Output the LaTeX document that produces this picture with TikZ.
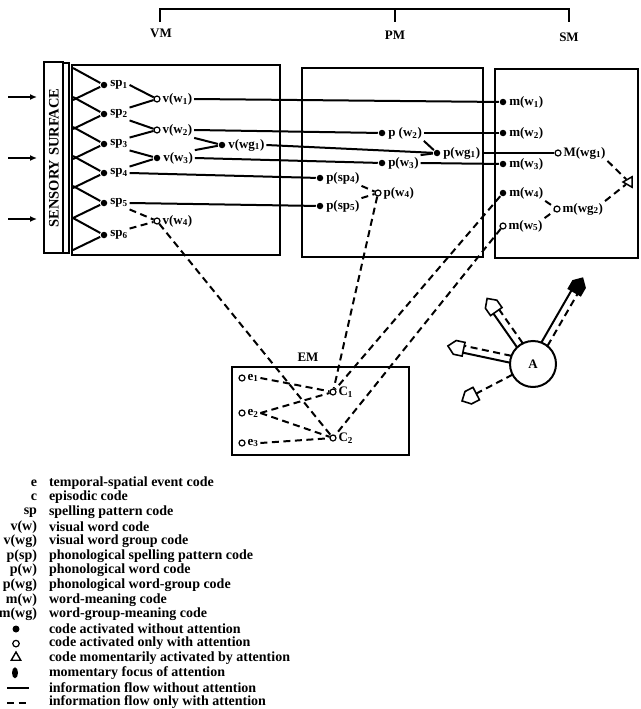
\documentclass[tikz,border=0pt]{standalone}
\usepackage{fontspec}
\setmainfont{Liberation Serif}
\usetikzlibrary{arrows.meta,shapes.geometric}
\tikzset{
  fdot/.style={circle,fill=black,inner sep=0pt,minimum size=6.5pt},
  odot/.style={circle,draw,line width=1.2pt,fill=white,inner sep=0pt,minimum size=6pt},
  lab/.style={anchor=west,inner sep=1pt,font=\fontsize{13}{14}\selectfont\bfseries},
  box/.style={draw,line width=2.2pt},
  flow/.style={line width=2pt},
  attn/.style={line width=2pt,dash pattern=on 7pt off 4.5pt},
  legsym/.style={anchor=east,inner sep=0pt,font=\fontsize{14}{14}\selectfont\bfseries},
  legtxt/.style={anchor=west,inner sep=0pt,font=\fontsize{14}{14}\selectfont\bfseries},
  title/.style={font=\fontsize{13}{14}\selectfont\bfseries},
  inarrow/.style={line width=2pt,-{Latex[length=7pt,width=6pt]}},
}
\newcommand\attarrow[3]{%
  \begin{scope}[shift={(A)},rotate=#1]
    \draw[flow] (23,-3.5) -- ({#2-15},-3.5);
    \draw[attn] (23,3.5) -- ({#2-15},3.5);
    \draw[line width=1.6pt,fill=#3] ({#2-16},-7) -- ({#2-7},-7) -- (#2,0) -- ({#2-7},7) -- ({#2-16},7) -- cycle;
  \end{scope}}
\begin{document}
\begin{tikzpicture}[x=1pt,y=-1pt,line width=2pt]
\useasboundingbox (0,0) rectangle (640,709);
% top bracket
\coordinate (bVM) at (160,22);
\coordinate (bVMt) at (160,9);
\coordinate (bSMt) at (569,9);
\coordinate (bSM) at (569,22);
\coordinate (bPMt) at (395,9);
\coordinate (bPM) at (395,22);
\draw[line width=2pt] (bVM) -- (bVMt) -- (bSMt) -- (bSM);
\draw[line width=2pt] (bPMt) -- (bPM);
\node[title] (VM) at (161,33) {VM};
\node[title] (PM) at (395,35) {PM};
\node[title] (SM) at (569,37) {SM};
% input arrows
\coordinate (i1) at (8,97);  \coordinate (j1) at (37,97);
\coordinate (i2) at (8,158); \coordinate (j2) at (37,158);
\coordinate (i3) at (8,219); \coordinate (j3) at (37,219);
\draw[inarrow] (i1) -- (j1);
\draw[inarrow] (i2) -- (j2);
\draw[inarrow] (i3) -- (j3);
% sensory surface
\draw[box] (44,62) rectangle (63,253);
\draw[line width=1.4pt] (63,63) rectangle (69,253);
\node[rotate=90,font=\fontsize{14.5}{15}\selectfont\bfseries] (SS) at (54,158) {SENSORY SURFACE};
% boxes
\draw[box] (72,65) rectangle (280,255);
\draw[box] (302,68) rectangle (483,257);
\draw[box] (495,69) rectangle (638,258);
\draw[box] (232,367) rectangle (409,455);
\node[title] (EM) at (308,357) {EM};
% VM nodes
\foreach \n/\y in {1/85,2/114,3/144,4/173,5/203,6/235}{
  \node[fdot] (sp\n) at (104,\y) {};
  \node[lab] (sp\n l) at (sp\n.east) {sp\textsubscript{\n}};
  \coordinate (za\n) at (73,{\y-17});
  \coordinate (zb\n) at (73,{\y+15});
  \draw[flow] (za\n) -- (sp\n) -- (zb\n);
}
\node[odot] (vw1) at (157,99) {};  \node[lab] (vw1l) at (vw1.east) {v(w\textsubscript{1})};
\node[odot] (vw2) at (157,130) {}; \node[lab] (vw2l) at (vw2.east) {v(w\textsubscript{2})};
\node[fdot] (vw3) at (157,158) {}; \node[lab] (vw3l) at (vw3.east) {v(w\textsubscript{3})};
\node[odot] (vw4) at (157,221) {}; \node[lab] (vw4l) at (vw4.east) {v(w\textsubscript{4})};
\node[fdot] (vwg1) at (222,145) {}; \node[lab] (vwg1l) at (vwg1.east) {v(wg\textsubscript{1})};
\draw[flow] (sp1l.east) -- (vw1);
\draw[flow] (sp2l.north east) -- (vw1);
\draw[flow] (sp2l.south east) -- (vw2);
\draw[flow] (sp3l.north east) -- (vw2);
\draw[flow] (sp3l.south east) -- (vw3);
\draw[flow] (sp4l.north east) -- (vw3);
\draw[attn] (sp5l.south east) -- (vw4);
\draw[attn] (sp6l.north east) -- (vw4);
\draw[flow] (vw2l.south east) -- (vwg1);
\draw[flow] (vw3l.north east) -- (vwg1);
% PM nodes
\node[fdot] (pw2) at (382,133) {}; \node[lab] (pw2l) at (pw2.east) {p (w\textsubscript{2})};
\node[fdot] (pw3) at (382,163) {}; \node[lab] (pw3l) at (pw3.east) {p(w\textsubscript{3})};
\node[fdot] (pwg1) at (437,153) {}; \node[lab] (pwg1l) at (pwg1.east) {p(wg\textsubscript{1})};
\node[fdot] (psp4) at (320,178) {}; \node[lab] (psp4l) at (psp4.east) {p(sp\textsubscript{4})};
\node[fdot] (psp5) at (320,206) {}; \node[lab] (psp5l) at (psp5.east) {p(sp\textsubscript{5})};
\node[odot] (pw4) at (378,193) {}; \node[lab] (pw4l) at (pw4.east) {p(w\textsubscript{4})};
\draw[attn] (psp4l.south east) -- (pw4);
\draw[attn] (psp5l.north east) -- (pw4);
\draw[flow] (pw2l.south east) -- (pwg1);
\draw[flow] (pw3l.north east) -- (pwg1);
% SM nodes
\node[fdot] (mw1) at (503,102) {}; \node[lab] (mw1l) at (mw1.east) {m(w\textsubscript{1})};
\node[fdot] (mw2) at (503,133) {}; \node[lab] (mw2l) at (mw2.east) {m(w\textsubscript{2})};
\node[fdot] (mw3) at (503,164) {}; \node[lab] (mw3l) at (mw3.east) {m(w\textsubscript{3})};
\node[odot] (Mwg1) at (558,153) {}; \node[lab] (Mwg1l) at (Mwg1.east) {M(wg\textsubscript{1})};
\node[fdot] (mw4) at (503,193) {}; \node[lab] (mw4l) at (mw4.east) {m(w\textsubscript{4})};
\node[odot] (mw5) at (503,226) {}; \node[lab] (mw5l) at (mw5.east) {m(w\textsubscript{5})};
\node[odot] (mwg2) at (557,209) {}; \node[lab] (mwg2l) at (mwg2.east) {m(wg\textsubscript{2})};
\node[draw,line width=1.5pt,regular polygon,regular polygon sides=3,shape border rotate=90,inner sep=0pt,minimum size=12pt] (tri) at (629,182) {};
\draw[attn] (mw4l.south east) -- (mwg2);
\draw[attn] (mw5l.north east) -- (mwg2);
\draw[attn] (Mwg1l.south east) -- (tri);
\draw[attn] (mwg2l.north east) -- (tri);
% flows between modules
\draw[flow] (vw1l.east) -- (mw1);
\draw[flow] (vw2l.east) -- (pw2);
\draw[flow] (vwg1l.east) -- (pwg1);
\draw[flow] (vw3l.east) -- (pw3);
\draw[flow] (sp4l.east) -- (psp4);
\draw[flow] (sp5l.east) -- (psp5);
\draw[flow] (pw2l.east) -- (mw2);
\draw[flow] (pw3l.east) -- (mw3);
\draw[flow] (pwg1l.east) -- (Mwg1);
% EM nodes
\node[odot] (e1) at (242,378) {}; \node[lab] (e1l) at (e1.east) {e\textsubscript{1}};
\node[odot] (e2) at (242,413) {}; \node[lab] (e2l) at (e2.east) {e\textsubscript{2}};
\node[odot] (e3) at (242,443) {}; \node[lab] (e3l) at (e3.east) {e\textsubscript{3}};
\node[odot] (C1) at (333,392) {}; \node[lab] (C1l) at (C1.east) {C\textsubscript{1}};
\node[odot] (C2) at (333,438) {}; \node[lab] (C2l) at (C2.east) {C\textsubscript{2}};
\draw[attn] (e1l.east) -- (C1);
\draw[attn] (e2l.east) -- (C1);
\draw[attn] (e2l.east) -- (C2);
\draw[attn] (e3l.east) -- (C2);
\draw[attn] (vw4) -- (C2);
\draw[attn] (pw4) -- (C1);
\draw[attn] (mw4) -- (C1);
\draw[attn] (mw5) -- (C2);
% attention
\node[circle,draw,line width=2pt,minimum size=46pt,inner sep=0pt,font=\fontsize{13}{14}\selectfont\bfseries] (A) at (533,364) {A};
\attarrow{60}{99}{black}
\attarrow{125}{80}{white}
\attarrow{168}{87}{white}
\begin{scope}[shift={(A)},rotate=207.5]
  \draw[attn] (23,0) -- (65,0);
  \draw[line width=1.6pt,fill=white] (64,-7) -- (73,-7) -- (80,0) -- (73,7) -- (64,7) -- cycle;
\end{scope}
% legend
\foreach \i/\s/\t in {0/e/temporal-spatial event code,
  1/c/episodic code,
  2/sp/spelling pattern code,
  3/v(w)/visual word code,
  4/v(wg)/visual word group code,
  5/p(sp)/phonological spelling pattern code,
  6/p(w)/phonological word code,
  7/p(wg)/phonological word-group code,
  8/m(w)/word-meaning code,
  9/m(wg)/word-group-meaning code}{
  \node[legsym] (ls\i) at (38,{483+14.6*\i}) {\s};
  \node[legtxt] (lt\i) at (48,{483+14.6*\i}) {\t};
}
\node[fdot,minimum size=7pt] (ls10) at (16,629) {};
\node[legtxt] (lt10) at (48,629) {code activated without attention};
\node[odot,minimum size=6.5pt] (ls11) at (16,643.6) {};
\node[legtxt] (lt11) at (48,643.6) {code activated only with attention};
\node[draw,line width=1.4pt,regular polygon,regular polygon sides=3,inner sep=0pt,minimum size=11pt] (ls12) at (16,657.5) {};
\node[legtxt] (lt12) at (48,658.2) {code momentarily activated by attention};
\node[ellipse,fill=black,inner sep=0pt,minimum width=6pt,minimum height=11pt] (ls13) at (15,672.8) {};
\node[legtxt] (lt13) at (48,672.8) {momentary focus of attention};
\coordinate (l14a) at (7,688); \coordinate (l14b) at (29,688);
\draw[flow] (l14a) -- (l14b);
\node[legtxt] (lt14) at (48,687.4) {information flow without attention};
\coordinate (l15a) at (7,703); \coordinate (l15b) at (29,703);
\draw[attn] (l15a) -- (l15b);
\node[legtxt] (lt15) at (48,702) {information flow only with attention};
\end{tikzpicture}
\end{document}
